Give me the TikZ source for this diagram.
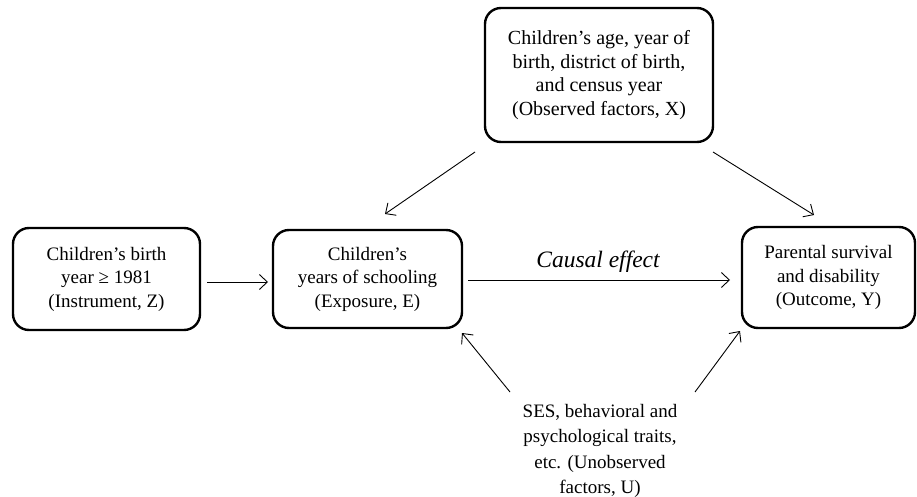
\documentclass[tikz,border=0pt]{standalone}
\usepackage{fontspec}
\setmainfont{Liberation Serif}
\usetikzlibrary{arrows.meta}
\begin{document}
\begin{tikzpicture}[x=1pt,y=-1pt,
  box/.style={draw,line width=2.4pt,rounded corners=16pt,align=center,
    font=\fontsize{19}{23.5}\selectfont,inner sep=0pt},
  conn/.style={line width=0.9pt,-{Straight Barb[length=8pt,width=15pt,line width=0.9pt]}},
  lbl/.style={align=center,font=\fontsize{19}{25.5}\selectfont}]
\useasboundingbox (0,0) rectangle (917,497);
\node[box,minimum width=228pt,minimum height=134pt,font=\fontsize{20}{23.7}\selectfont] (X) at (599,75)
  {Children’s age, year of\\birth, district of birth,\\and census year\\(Observed factors, X)};
\node[box,minimum width=187pt,minimum height=102pt] (Z) at (106.5,279)
  {Children’s birth\\year ≥ 1981\\(Instrument, Z)};
\node[box,minimum width=189pt,minimum height=98pt] (E) at (367.5,279)
  {Children’s\\years of schooling\\(Exposure, E)};
\node[box,minimum width=173pt,minimum height=101pt] (Y) at (828.5,277.5)
  {Parental survival\\and disability\\(Outcome, Y)};
\node[lbl] (U) at (600,451)
  {SES, behavioral and\\psychological traits,\\etc. (Unobserved\\factors, U)};
\node[font=\itshape\fontsize{23.5}{26}\selectfont] (C) at (598,262) {Causal effect};
\coordinate (zs) at (207,282);
\coordinate (ze) at (268,282);
\coordinate (es) at (468,280);
\coordinate (ee) at (730,280);
\coordinate (xs1) at (475,152);
\coordinate (xe1) at (385,214);
\coordinate (xs2) at (713,152);
\coordinate (xe2) at (814,215);
\coordinate (us1) at (510,392);
\coordinate (ue1) at (462,333);
\coordinate (us2) at (695,392);
\coordinate (ue2) at (740,331);
\draw[conn] (zs) -- (ze);
\draw[conn] (es) -- (ee);
\draw[conn] (xs1) -- (xe1);
\draw[conn] (xs2) -- (xe2);
\draw[conn] (us1) -- (ue1);
\draw[conn] (us2) -- (ue2);
\end{tikzpicture}
\end{document}
